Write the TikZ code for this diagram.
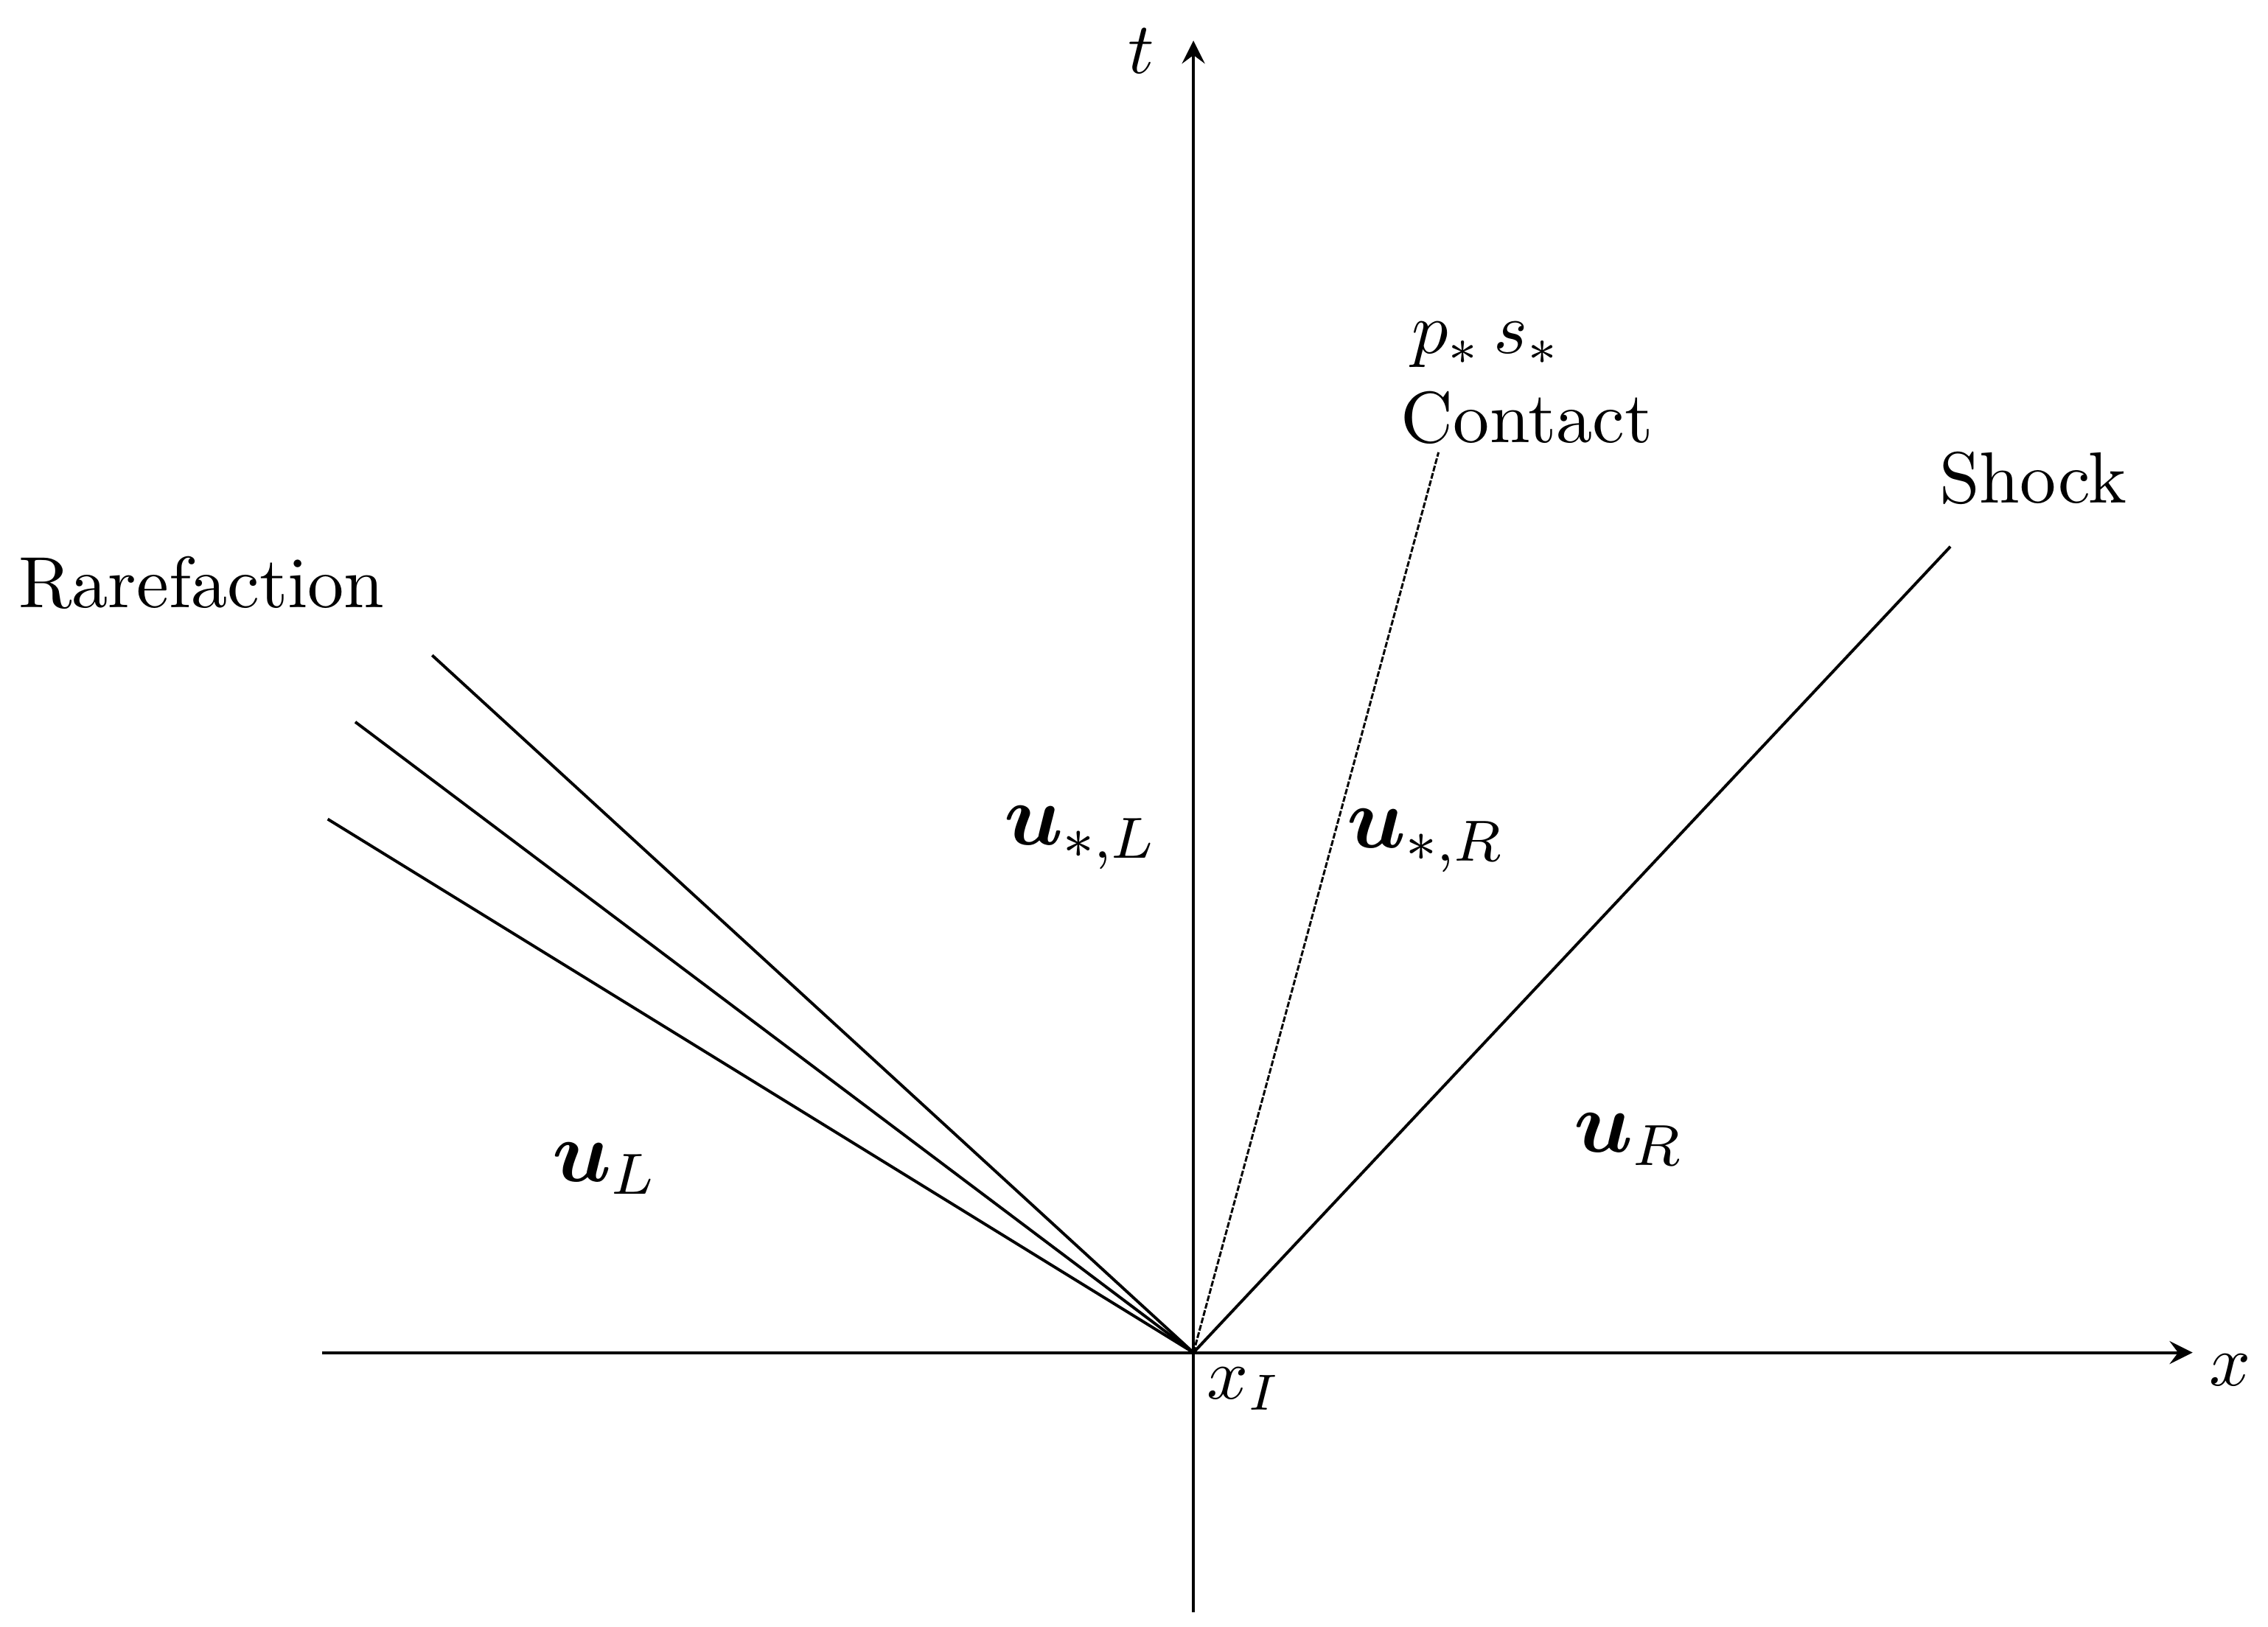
\documentclass[tikz,border=0pt]{standalone}
\usepackage{amsmath}
\begin{document}
\begin{tikzpicture}[x=0.2pt,y=-0.2pt,
  ln/.style={line width=0.4pt},
  lab/.style={inner sep=0pt},
  big/.style={inner sep=0pt,font=\large}]
\useasboundingbox (0,0) rectangle (1564,1122);
\coordinate (O) at (823,933);
\coordinate (xs) at (222,933); \coordinate (xe) at (1512,933);
\coordinate (ts) at (823,1112); \coordinate (te) at (823,28);
\draw[ln,-stealth] (xs) -- (xe);
\draw[ln,-stealth] (ts) -- (te);
\coordinate (r1) at (298,452); \coordinate (r2) at (245,498); \coordinate (r3) at (226,565);
\coordinate (c) at (992,312); \coordinate (s) at (1345,377);
\draw[ln] (O) -- (r1); \draw[ln] (O) -- (r2); \draw[ln] (O) -- (r3);
\draw[line width=0.3pt,dash pattern=on 0.8pt off 0.25pt] (O) -- (c);
\draw[ln] (O) -- (s);
\node[lab] (tl) at (787,35) {$t$};
\node[lab] (xl) at (1538,945) {$x$};
\node[lab] (xi) at (858,958) {$x_I$};
\node[lab] (ps) at (1025,238) {$p_*\,s_*$};
\node[lab] (ct) at (1053,288) {Contact};
\node[lab] (sh) at (1402,330) {Shock};
\node[lab] (rf) at (139,402) {Rarefaction};
\node[big] (usl) at (745,578) {$\boldsymbol{u}_{*,L}$};
\node[big] (usr) at (983,580) {$\boldsymbol{u}_{*,R}$};
\node[big] (ul) at (417,806) {$\boldsymbol{u}_{L}$};
\node[big] (ur) at (1123,786) {$\boldsymbol{u}_{R}$};
\end{tikzpicture}
\end{document}
